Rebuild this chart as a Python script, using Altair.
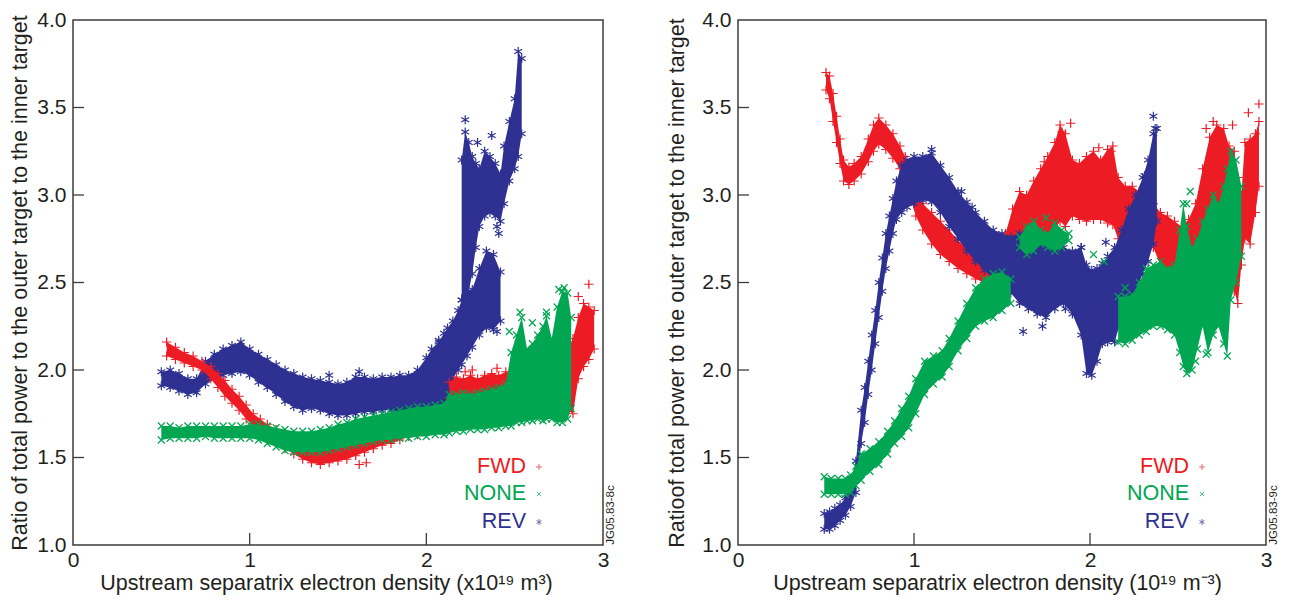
import altair as alt
import pandas as pd

# ---------------- colours / markers ----------------
RED, GREEN, BLUE = "#ED1C24", "#00A651", "#2E3192"
PLUS = "M-1,0L1,0M0,-1L0,1"
CROSS = "M-0.75,-0.75L0.75,0.75M-0.75,0.75L0.75,-0.75"
STAR = "M0,-1L0,1M-0.85,-0.5L0.85,0.5M-0.85,0.5L0.85,-0.5"

X_LABELS = [0, 1, 2, 3]
Y_LABELS = [1.0, 1.5, 2.0, 2.5, 3.0, 3.5, 4.0]
X_TICKS = [1, 2]
Y_TICKS = [1.5, 2.0, 2.5, 3.0, 3.5]
LEGEND_LABELS = ["FWD", "NONE", "REV"]

# ---------------- left panel (lower / upper envelopes of the point clouds) ----------------
L_FWD_X = [0.53,0.58,0.63,0.68,0.73,0.78,0.82,0.86,0.90,0.94,0.98,1.02,1.06,1.10,1.15,1.20,1.25,1.30,1.35,1.40,1.45,1.50,1.55,1.60,1.65,1.70,1.75,1.80,1.85,1.90,1.95,2.00,2.05,2.10]
L_FWD_LO = [2.08,2.06,2.04,2.02,2.00,1.95,1.90,1.85,1.81,1.77,1.72,1.68,1.65,1.62,1.58,1.55,1.52,1.49,1.47,1.46,1.47,1.48,1.49,1.51,1.53,1.55,1.57,1.58,1.60,1.62,1.63,1.65,1.67,1.70]
L_FWD_HI = [2.16,2.13,2.10,2.08,2.05,2.02,1.98,1.94,1.89,1.85,1.80,1.75,1.72,1.69,1.66,1.64,1.62,1.60,1.58,1.57,1.57,1.58,1.60,1.62,1.64,1.66,1.67,1.68,1.70,1.71,1.72,1.74,1.76,1.78]
L_FWD_B_X = [2.13,2.17,2.21,2.25,2.29,2.33,2.37,2.41,2.45,2.49,2.53,2.57,2.61,2.65,2.69,2.73,2.77,2.80,2.83,2.86,2.89,2.92,2.95]
L_FWD_B_LO = [1.84,1.84,1.85,1.85,1.85,1.86,1.86,1.87,1.87,1.86,1.87,1.88,1.90,1.92,1.93,1.92,1.88,1.77,1.75,1.95,2.02,2.06,2.12]
L_FWD_B_HI = [1.93,1.96,1.95,1.97,1.95,1.97,1.98,1.97,1.99,1.98,2.00,2.02,2.05,2.08,2.11,2.10,2.08,2.12,2.18,2.30,2.38,2.36,2.34]
L_FWD_OUT_X = [2.92,2.86,2.22,2.26,2.40,1.62,1.66,2.76,2.70]
L_FWD_OUT_Y = [2.49,2.42,1.99,2.00,2.01,1.46,1.47,2.15,2.12]

L_NONE_X = [0.50,0.55,0.60,0.65,0.70,0.75,0.80,0.85,0.90,0.95,1.00,1.05,1.10,1.15,1.20,1.25,1.30,1.35,1.40,1.45,1.50,1.55,1.60,1.65,1.70,1.75,1.80,1.85,1.90,1.95,2.00,2.05,2.10,2.13,2.17,2.21,2.25,2.29,2.33,2.37,2.41,2.45,2.48,2.51,2.54,2.57,2.60,2.63,2.66,2.68,2.71,2.74,2.77,2.80,2.82]
L_NONE_LO = [1.60,1.61,1.61,1.61,1.61,1.62,1.61,1.61,1.61,1.61,1.61,1.60,1.58,1.56,1.54,1.53,1.53,1.53,1.53,1.54,1.55,1.56,1.57,1.58,1.59,1.60,1.60,1.61,1.61,1.62,1.62,1.63,1.63,1.64,1.65,1.65,1.66,1.66,1.66,1.67,1.67,1.68,1.68,1.70,1.70,1.71,1.71,1.72,1.71,1.72,1.72,1.70,1.70,1.72,1.78]
L_NONE_HI = [1.68,1.68,1.67,1.68,1.68,1.68,1.68,1.68,1.68,1.68,1.69,1.69,1.68,1.67,1.66,1.65,1.65,1.65,1.66,1.67,1.69,1.70,1.72,1.73,1.74,1.75,1.76,1.77,1.78,1.79,1.79,1.80,1.81,1.86,1.86,1.87,1.86,1.87,1.88,1.89,1.90,1.92,2.10,2.20,2.30,2.12,2.15,2.20,2.25,2.31,2.18,2.36,2.45,2.44,2.30]
L_NONE_OUT_X = [2.53,2.68,2.75,2.78,2.60,2.47]
L_NONE_OUT_Y = [2.33,2.33,2.46,2.47,2.27,2.22]

L_REV_X = [0.50,0.55,0.60,0.65,0.70,0.75,0.80,0.85,0.90,0.95,1.00,1.05,1.10,1.15,1.20,1.25,1.30,1.35,1.40,1.45,1.50,1.55,1.60,1.65,1.70,1.75,1.80,1.85,1.90,1.95,2.00,2.03,2.07,2.10,2.12,2.15,2.18,2.20,2.23,2.26,2.30,2.34,2.38,2.42]
L_REV_LO = [1.91,1.90,1.88,1.86,1.87,1.92,1.95,1.97,1.98,1.99,1.97,1.93,1.90,1.86,1.82,1.79,1.77,1.78,1.77,1.75,1.74,1.74,1.75,1.76,1.76,1.77,1.77,1.76,1.75,1.72,1.67,1.70,1.72,1.73,1.75,1.95,2.00,2.03,2.08,2.13,2.20,2.24,2.23,2.28]
L_REV_HI = [1.99,2.00,1.98,1.95,1.95,2.05,2.09,2.12,2.14,2.16,2.12,2.09,2.06,2.03,2.00,1.98,1.96,1.95,1.94,1.93,1.92,1.93,1.96,1.96,1.95,1.96,1.96,1.97,1.97,2.00,2.07,2.12,2.16,2.21,2.24,2.28,2.34,2.40,2.44,2.46,2.58,2.68,2.66,2.56]
L_REV_B_X = [2.20,2.22,2.24,2.26,2.28,2.30,2.33,2.36,2.39,2.42,2.44,2.47,2.50,2.52,2.54]
L_REV_B_LO = [2.40,2.42,2.45,2.55,2.70,2.82,2.88,2.90,2.88,2.85,2.95,3.08,3.15,3.22,3.35]
L_REV_B_HI = [3.20,3.36,3.30,3.22,3.18,3.15,3.25,3.22,3.18,3.12,3.28,3.42,3.55,3.82,3.78]
L_REV_OUT_X = [2.22,2.37,2.40,2.41,2.40,2.07,2.29,1.45,1.62]
L_REV_OUT_Y = [3.43,3.34,2.82,2.78,2.22,2.17,3.30,1.97,1.99]

# ---------------- right panel ----------------
R_FWD_X = [0.50,0.52,0.54,0.56,0.58,0.60,0.63,0.66,0.70,0.74,0.77,0.80,0.84,0.88,0.92,0.95,0.98,1.01,1.05,1.10,1.15,1.20,1.25,1.30,1.35,1.40,1.45]
R_FWD_LO = [3.60,3.55,3.42,3.30,3.18,3.08,3.06,3.08,3.12,3.19,3.25,3.29,3.26,3.21,3.15,3.10,2.98,2.88,2.80,2.72,2.66,2.62,2.58,2.55,2.52,2.50,2.50]
R_FWD_HI = [3.70,3.68,3.58,3.45,3.32,3.20,3.16,3.18,3.22,3.32,3.40,3.44,3.40,3.35,3.28,3.22,3.12,3.02,2.95,2.90,2.85,2.80,2.74,2.70,2.66,2.63,2.62]
R_FWD_B_X = [1.48,1.52,1.56,1.60,1.64,1.68,1.72,1.76,1.80,1.83,1.86,1.90,1.94,1.98,2.02,2.06,2.10,2.13,2.16,2.20,2.24,2.28,2.32,2.36,2.40,2.44,2.48,2.52,2.56,2.60,2.64,2.68,2.72,2.76,2.79,2.82,2.84,2.86,2.88,2.91,2.94,2.96]
R_FWD_B_LO = [2.51,2.54,2.60,2.66,2.70,2.74,2.77,2.79,2.80,2.85,2.82,2.88,2.86,2.85,2.86,2.86,2.84,2.83,2.75,2.72,2.75,2.80,2.75,2.70,2.60,2.58,2.55,2.55,2.58,2.60,2.70,2.76,2.80,2.78,2.70,2.45,2.38,2.60,2.75,2.72,2.90,3.05]
R_FWD_B_HI = [2.66,2.78,2.92,3.02,3.00,3.08,3.15,3.22,3.30,3.40,3.35,3.20,3.18,3.22,3.25,3.20,3.26,3.28,3.10,3.05,3.05,3.02,3.00,2.95,2.90,2.88,2.85,2.82,2.86,2.95,3.15,3.33,3.40,3.38,3.28,3.25,3.10,3.00,3.30,3.32,3.35,3.42]
R_FWD_OUT_X = [1.89,1.84,2.05,2.12,1.74,2.70,2.81,2.90,2.96,2.66]
R_FWD_OUT_Y = [3.41,3.36,3.27,3.25,3.19,3.42,3.40,3.47,3.52,3.38]

R_NONE_X = [0.49,0.53,0.57,0.61,0.64,0.67,0.70,0.75,0.80,0.85,0.89,0.93,0.97,1.01,1.06,1.11,1.16,1.20,1.25,1.30,1.35,1.40,1.45,1.50,1.55]
R_NONE_LO = [1.29,1.29,1.29,1.29,1.30,1.34,1.37,1.42,1.46,1.52,1.58,1.62,1.67,1.75,1.86,1.92,1.96,2.02,2.11,2.18,2.25,2.28,2.30,2.34,2.38]
R_NONE_HI = [1.39,1.38,1.38,1.38,1.40,1.45,1.52,1.55,1.59,1.65,1.71,1.78,1.85,1.95,2.05,2.08,2.11,2.18,2.28,2.38,2.47,2.52,2.55,2.56,2.52]
R_NONE_B_X = [1.60,1.64,1.68,1.72,1.76,1.80,1.84,1.88]
R_NONE_B_LO = [2.70,2.66,2.68,2.72,2.70,2.68,2.70,2.74]
R_NONE_B_HI = [2.76,2.82,2.85,2.80,2.78,2.84,2.80,2.78]
R_NONE_C_X = [2.16,2.20,2.24,2.28,2.32,2.36,2.40,2.44,2.48,2.51,2.53,2.55,2.58,2.61,2.64,2.67,2.70,2.73,2.76,2.78,2.80,2.83,2.86]
R_NONE_C_LO = [2.16,2.15,2.17,2.20,2.22,2.25,2.25,2.23,2.20,2.10,2.02,1.98,2.00,2.12,2.25,2.10,2.20,2.25,2.15,2.08,2.40,2.50,2.65]
R_NONE_C_HI = [2.42,2.42,2.43,2.50,2.58,2.60,2.62,2.58,2.60,2.80,2.95,2.82,2.70,2.75,2.85,2.92,3.00,2.95,3.05,3.15,3.25,3.20,3.05]
R_NONE_OUT_X = [2.57,2.55,1.75,2.60,2.66,2.20,2.02,2.08]
R_NONE_OUT_Y = [3.02,2.95,2.87,2.05,2.09,2.47,2.66,2.62]

R_REV_X = [0.49,0.52,0.55,0.58,0.61,0.64,0.67,0.70,0.72,0.74,0.76,0.78,0.80,0.82,0.84,0.86,0.88,0.90,0.93,0.96,1.00,1.05,1.10,1.15,1.20,1.25,1.30,1.35,1.40,1.45,1.50,1.55,1.60,1.65,1.70,1.75,1.80,1.85,1.90,1.95,1.98,2.01,2.04,2.07,2.10,2.14,2.18,2.22,2.26,2.30,2.33,2.36,2.38]
R_REV_LO = [1.09,1.09,1.11,1.14,1.17,1.22,1.30,1.58,1.70,1.86,2.00,2.15,2.30,2.45,2.58,2.68,2.78,2.86,2.90,2.93,2.95,2.97,2.96,2.90,2.82,2.75,2.68,2.62,2.57,2.52,2.49,2.44,2.38,2.35,2.32,2.30,2.35,2.38,2.32,2.20,1.98,1.97,2.05,2.15,2.16,2.16,2.30,2.40,2.45,2.55,2.62,2.72,2.85]
R_REV_HI = [1.18,1.19,1.21,1.23,1.27,1.35,1.48,1.77,1.90,2.05,2.20,2.34,2.50,2.64,2.78,2.88,2.98,3.08,3.17,3.20,3.22,3.22,3.24,3.17,3.10,3.02,2.96,2.90,2.85,2.80,2.78,2.76,2.78,2.76,2.72,2.76,2.72,2.70,2.68,2.70,2.60,2.57,2.58,2.61,2.65,2.70,2.80,2.92,3.00,3.10,3.20,3.35,3.38]
R_REV_OUT_X = [1.10,1.27,1.33,1.73,1.86,1.95,2.09,2.31,2.36,2.37,1.62]
R_REV_OUT_Y = [3.26,3.02,2.93,2.25,2.35,2.70,2.73,3.11,3.45,3.38,2.22]

# ---------------- styling ----------------
FONT = "Liberation Sans"
INK = "#231F20"
FRAME = "#3C3C3C"
XS = alt.Scale(domain=[0, 3], nice=False, zero=False)
YS = alt.Scale(domain=[1, 4], nice=False, zero=False)


def make_axes(xtitle, ytitle, lab_pad, extent, title_pad, title_x):
    xa = alt.Axis(title=xtitle, values=X_LABELS, format="d", ticks=False, domain=False,
                  grid=False, labelFontSize=21, titleFontSize=21.5, labelPadding=4,
                  titlePadding=2, labelFont=FONT, titleFont=FONT, labelColor=INK,
                  titleColor=INK, labelFlush=False, labelOverlap=False, titleFontWeight="normal",
                  titleX=title_x, titleAlign="center")
    ya = alt.Axis(title=ytitle, values=Y_LABELS, format=".1f", ticks=False, domain=False,
                  grid=False, labelFontSize=21, titleFontSize=21.5, labelPadding=lab_pad,
                  minExtent=extent, maxExtent=extent, titlePadding=title_pad,
                  labelFont=FONT, titleFont=FONT, labelColor=INK, titleColor=INK,
                  labelFlush=False, labelOverlap=False, titleFontWeight="normal")
    return xa, ya


def series(bands, out_x, out_y, color, shape, xa, ya):
    rows, edges = [], []
    for k, (xs, lo, hi) in enumerate(bands):
        for a, b, c in zip(xs, lo, hi):
            rows.append({"x": a, "lo": b, "hi": c, "seg": k})
            edges.append({"x": a, "y": b})
            edges.append({"x": a, "y": c})
    for a, b in zip(out_x, out_y):
        edges.append({"x": a, "y": b})
    band_df = pd.DataFrame(rows)
    edge_df = pd.DataFrame(edges)
    area = alt.Chart(band_df).mark_area(color=color, opacity=1, interpolate="linear").encode(
        x=alt.X("x:Q", scale=XS, axis=xa),
        y=alt.Y("lo:Q", scale=YS, axis=ya),
        y2="hi:Q",
        detail="seg:N",
    )
    pts = alt.Chart(edge_df).mark_point(shape=shape, filled=False, color=color, size=85,
                                        strokeWidth=1.2, opacity=1).encode(
        x=alt.X("x:Q", scale=XS, axis=xa),
        y=alt.Y("y:Q", scale=YS, axis=ya),
    )
    return [area, pts]


def panel(order, xtitle, ytitle, lab_pad, extent, title_pad, title_x, width, jg, leg_x):
    xa, ya = make_axes(xtitle, ytitle, lab_pad, extent, title_pad, title_x)
    layers = []
    for (bands, ox, oy, color, shape) in order:
        layers += series(bands, ox, oy, color, shape, xa, ya)
    yt = alt.Chart(pd.DataFrame({"t": Y_TICKS})).mark_rule(color=FRAME, strokeWidth=1.3).encode(
        y=alt.Y("t:Q", scale=YS, axis=ya), x=alt.value(0), x2=alt.value(11))
    xt = alt.Chart(pd.DataFrame({"t": X_TICKS})).mark_rule(color=FRAME, strokeWidth=1.3).encode(
        x=alt.X("t:Q", scale=XS, axis=xa), y=alt.value(525), y2=alt.value(513))
    layers += [yt, xt]
    leg_cols = [RED, GREEN, BLUE]
    leg_shapes = [PLUS, CROSS, STAR]
    leg_y = [447, 474, 502]
    for i in range(3):
        d = alt.Data(values=[{"t": LEGEND_LABELS[i]}])
        layers.append(alt.Chart(d).mark_text(align="right", baseline="middle", font=FONT,
                                             fontSize=21.5, color=leg_cols[i]).encode(
            text="t:N", x=alt.value(leg_x), y=alt.value(leg_y[i])))
        layers.append(alt.Chart(d).mark_point(shape=leg_shapes[i], filled=False, color=leg_cols[i],
                                              size=34, strokeWidth=1).encode(
            x=alt.value(leg_x + 13), y=alt.value(leg_y[i])))
    jd = alt.Data(values=[{"t": jg}])
    layers.append(alt.Chart(jd).mark_text(angle=270, align="center", baseline="middle", font=FONT,
                                          fontSize=11.5, color=INK).encode(
        text="t:N", x=alt.value(width + 8), y=alt.value(495)))
    return alt.layer(*layers).properties(width=width, height=525)


left = panel(
    [
        ([(L_REV_X, L_REV_LO, L_REV_HI), (L_REV_B_X, L_REV_B_LO, L_REV_B_HI)], L_REV_OUT_X, L_REV_OUT_Y, BLUE, STAR),
        ([(L_FWD_X, L_FWD_LO, L_FWD_HI), (L_FWD_B_X, L_FWD_B_LO, L_FWD_B_HI)], L_FWD_OUT_X, L_FWD_OUT_Y, RED, PLUS),
        ([(L_NONE_X, L_NONE_LO, L_NONE_HI)], L_NONE_OUT_X, L_NONE_OUT_Y, GREEN, CROSS),
    ],
    "Upstream separatrix electron density (x10¹⁹ m³)",
    "Ratio of total power to the outer target to the inner target",
    7, 32, 10, 253, 530, "JG05.83-8c", 453,
)

right = panel(
    [
        ([(R_FWD_X, R_FWD_LO, R_FWD_HI), (R_FWD_B_X, R_FWD_B_LO, R_FWD_B_HI)], R_FWD_OUT_X, R_FWD_OUT_Y, RED, PLUS),
        ([(R_REV_X, R_REV_LO, R_REV_HI)], R_REV_OUT_X, R_REV_OUT_Y, BLUE, STAR),
        ([(R_NONE_X, R_NONE_LO, R_NONE_HI), (R_NONE_B_X, R_NONE_B_LO, R_NONE_B_HI),
          (R_NONE_C_X, R_NONE_C_LO, R_NONE_C_HI)], R_NONE_OUT_X, R_NONE_OUT_Y, GREEN, CROSS),
    ],
    "Upstream separatrix electron density (10¹⁹ m⁻³)",
    "Ratioof total power to the outer target to the inner target",
    7, 32, 18, 259, 528, "JG05.83-9c", 451,
)

chart = alt.hconcat(left, right, spacing=47).configure_view(
    stroke=FRAME, strokeWidth=1.5
).properties(padding={"left": 0, "top": 0, "right": 0, "bottom": 0}).configure_concat(spacing=47)

chart.save("out.html", embed_options={"renderer": "svg", "actions": False})
